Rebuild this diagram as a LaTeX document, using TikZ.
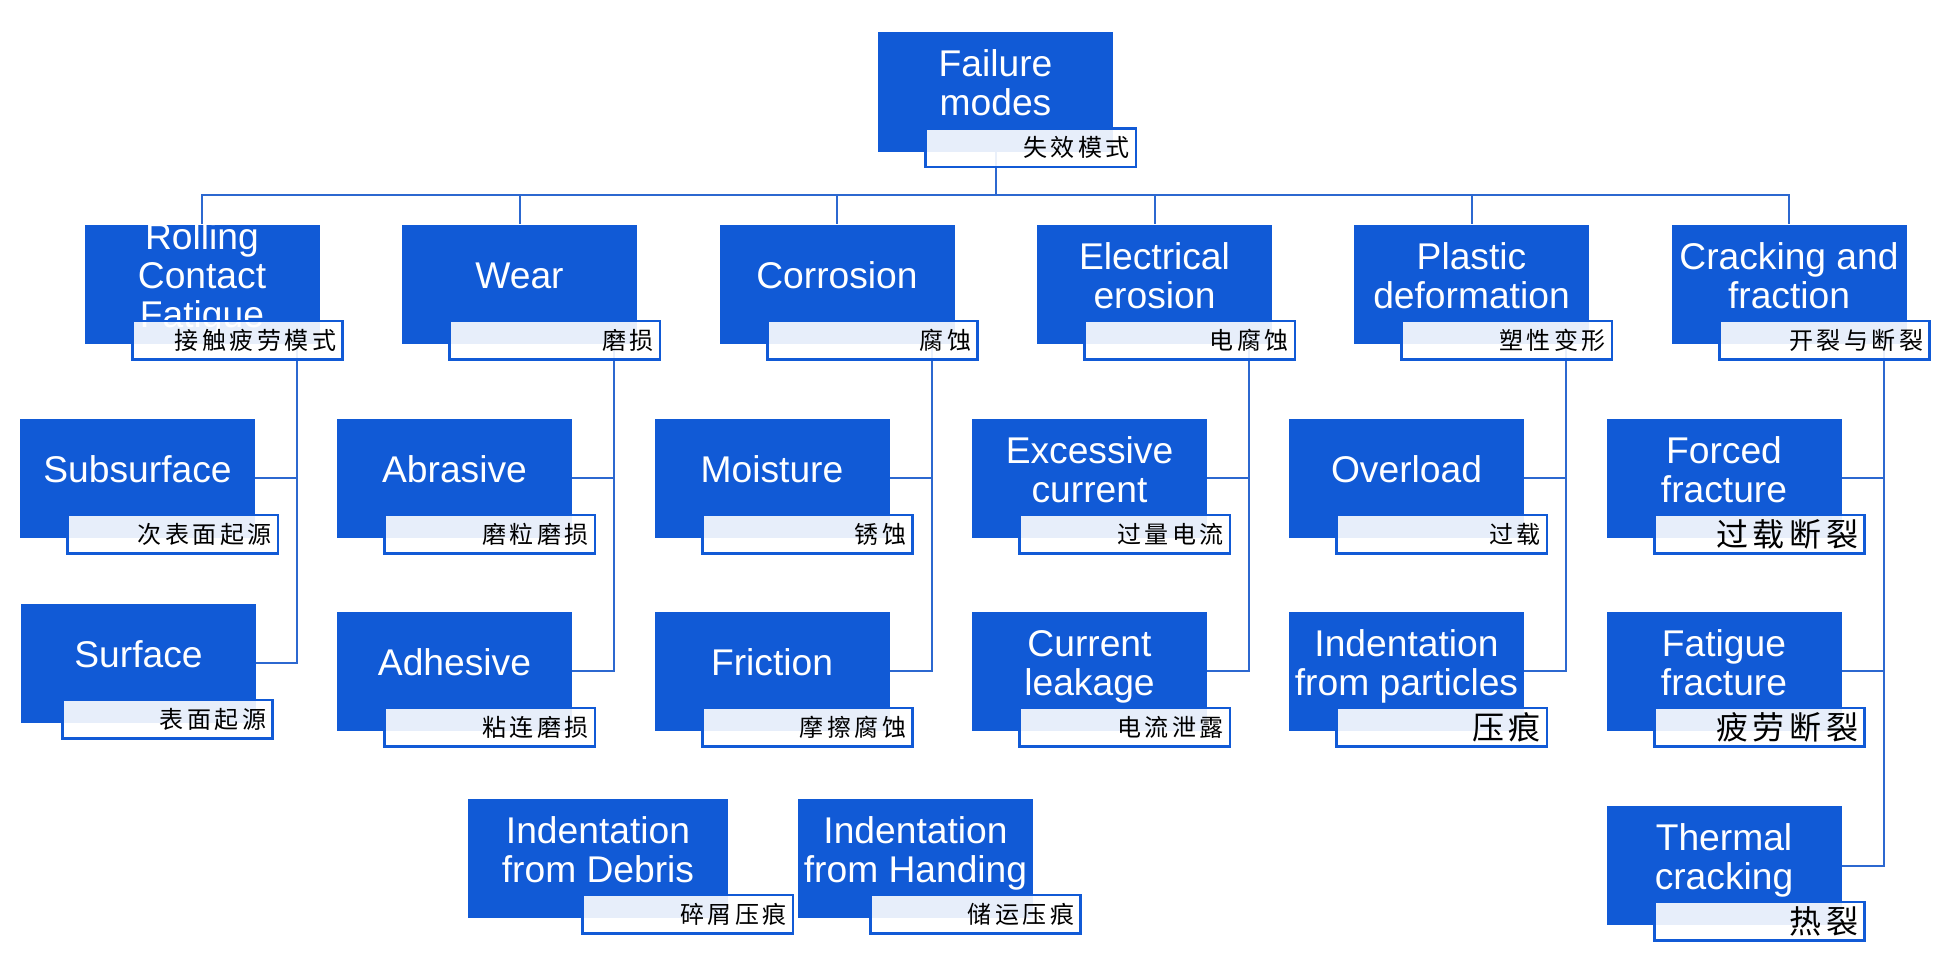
\documentclass[tikz,border=0pt]{standalone}
\usepackage{fontspec}
\setmainfont{Liberation Sans}
\newfontfamily\cjkfont[LetterSpace=15]{Noto Sans CJK SC}
\usetikzlibrary{calc}
\definecolor{boxblue}{RGB}{17,90,214}
\definecolor{lineblue}{RGB}{44,104,208}
\newcommand\cjks{\cjkfont\fontsize{12pt}{14pt}\selectfont}
\newcommand\cjkl{\cjkfont\fontsize{16pt}{18pt}\selectfont}
\newcommand\fmstrut{\rule[-4.1pt]{0pt}{21.5pt}}
\lineskiplimit=-100pt
\pgfdeclarelayer{bg}
\pgfsetlayers{bg,main}
\tikzset{
  fmbox/.style={fill=boxblue, draw=none, minimum height=59.75pt, inner sep=0pt},
  fmtext/.style={text=white, align=center, inner sep=0pt,
    font=\fontsize{18.6pt}{19.5pt}\selectfont},
  lbl/.style={draw=boxblue, line width=1.3pt, fill=white, fill opacity=0.9,
    minimum width=105.2pt, minimum height=19.2pt, inner sep=0pt},
  lbltext/.style={anchor=east, inner sep=0pt, text=black},
  conn/.style={draw=lineblue, line width=1pt}
}
\newcommand\fmitem[7][-82.5]{%
  \node[fmbox, minimum width=#5*0.5pt] (#2) at (#3,#4) {};
  \node[fmtext] (#2-t) at ($(#2.center)+(0,-9)$) {\fmstrut #6\fmstrut};
  \node[lbl] (#2-l) at ($(#2.south east)+(#1,-4.5)$) {};
  \node[lbltext] (#2-c) at ($(#2-l.east)+(-7,0)$) {#7};
}
\begin{document}
\begin{tikzpicture}[x=0.5pt, y=-0.5pt]
\useasboundingbox (0,0) rectangle (1950,972);
% root
\fmitem{fm}{995.5}{92}{235}{Failure\\modes}{\cjks 失效模式}
% level 1
\fmitem{rcf}{202}{284.5}{235}{Rolling\\Contact\\Fatigue}{\cjks 接触疲劳模式}
\fmitem{wear}{519.5}{284.5}{235}{Wear}{\cjks 磨损}
\fmitem{corr}{837}{284.5}{235}{Corrosion}{\cjks 腐蚀}
\fmitem{elec}{1154.5}{284.5}{235}{Electrical\\erosion}{\cjks 电腐蚀}
\fmitem{plas}{1471.5}{284.5}{235}{Plastic\\deformation}{\cjks 塑性变形}
\fmitem{crack}{1789}{284.5}{235}{Cracking and\\fraction}{\cjks 开裂与断裂}
% level 2
\fmitem{sub}{137.5}{478.5}{235}{Subsurface}{\cjks 次表面起源}
\fmitem[-89]{surf}{138.5}{663.5}{235}{Surface}{\cjks 表面起源}
\fmitem{abr}{454.5}{478.5}{235}{Abrasive}{\cjks 磨粒磨损}
\fmitem{adh}{454.5}{671.5}{235}{Adhesive}{\cjks 粘连磨损}
\fmitem{moist}{772}{478.5}{235}{Moisture}{\cjks 锈蚀}
\fmitem{fric}{772}{671.5}{235}{Friction}{\cjks 摩擦腐蚀}
\fmitem{exc}{1089.5}{478.5}{235}{Excessive\\current}{\cjks 过量电流}
\fmitem{leak}{1089.5}{671.5}{235}{Current\\leakage}{\cjks 电流泄露}
\fmitem{over}{1406.5}{478.5}{235}{Overload}{\cjks 过载}
\fmitem{indp}{1406.5}{671.5}{235}{Indentation\\from particles}{\cjkl 压痕}
\fmitem{forced}{1724}{478.5}{235}{Forced\\fracture}{\cjkl 过载断裂}
\fmitem{fatf}{1724}{671.5}{235}{Fatigue\\fracture}{\cjkl 疲劳断裂}
\fmitem{therm}{1724}{865.5}{235}{Thermal\\cracking}{\cjkl 热裂}
% standalone
\fmitem[-40.5]{debris}{598}{858.5}{260}{Indentation\\from Debris}{\cjks 碎屑压痕}
\fmitem[-58]{hand}{915.5}{858.5}{235}{Indentation\\from Handing}{\cjks 储运压痕}
% connectors
\begin{pgfonlayer}{bg}
\coordinate (bus) at (0,195);
\foreach \c in {rcf,wear,corr,elec,plas,crack}
  \draw[conn] (fm.south) -- (fm.south |- bus) -| (\c.north);
\foreach \p/\a/\b in {rcf/sub/surf, wear/abr/adh, corr/moist/fric, elec/exc/leak, plas/over/indp, crack/forced/fatf}{
  \coordinate (\p-tr) at ($(\p.south east)+(-23,0)$);
  \draw[conn] (\p-tr) |- (\a.east);
  \draw[conn] (\p-tr) |- (\b.east);
}
\draw[conn] (crack-tr) |- (therm.east);
\end{pgfonlayer}
\end{tikzpicture}
\end{document}
